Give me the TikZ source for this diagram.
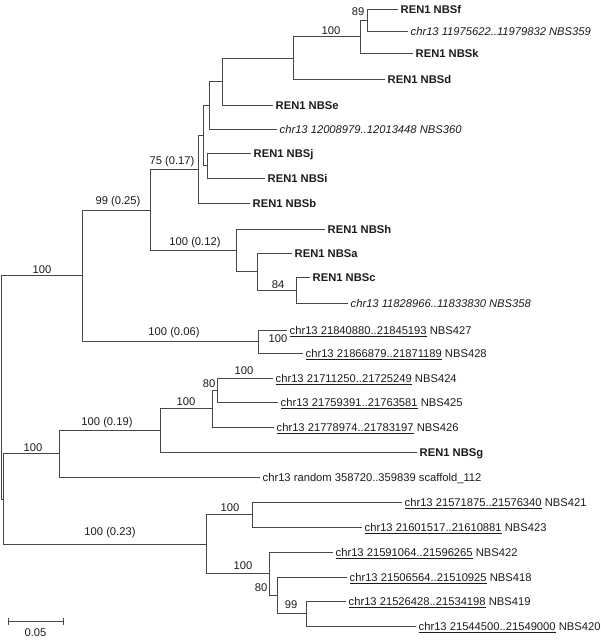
\documentclass[tikz,border=0pt]{standalone}
\usepackage{fontspec}
\setmainfont{Liberation Sans}
\definecolor{ramaG}{HTML}{474747}
\definecolor{textoN}{HTML}{1C1C1C}

\begin{document}
\begin{tikzpicture}[x=1pt,y=-1pt,
                    rama/.style={ramaG,line width=0.9pt},
                    hoja/.style={anchor=base west,inner sep=0pt,xshift=2.5pt,yshift=-4.2pt,
                                 text=textoN,font=\fontsize{11.2}{13}\selectfont},
                    boot/.style={inner sep=0pt,text=textoN,font=\fontsize{11.2}{13}\selectfont}]
  \useasboundingbox (0,0) rectangle (600,640);
  \coordinate (raiz) at (1,387.5);   \coordinate (c100) at (82,275.5);
  \coordinate (c99) at (150,210);    \coordinate (c75) at (198,169);
  \coordinate (cB) at (203,135.5);   \coordinate (cA) at (209,105);
  \coordinate (cE) at (222,81.5);    \coordinate (cD) at (293,58);
  \coordinate (cK) at (360,36.5);    \coordinate (c89) at (367,20);
  \coordinate (cJ) at (207,165.5);   \coordinate (cH) at (236,250.5);
  \coordinate (cHa) at (257,271.5);  \coordinate (c84) at (296,290);
  \coordinate (c06) at (258,341.5);  \coordinate (cBaja) at (3,499);
  \coordinate (cT2) at (59,453.75);  \coordinate (c19) at (160,430.5);
  \coordinate (c212) at (212,408.5); \coordinate (c80) at (217,390);
  \coordinate (c23) at (206,544);    \coordinate (c252) at (252,514.5);
  \coordinate (c269) at (269,573.5); \coordinate (c80b) at (277,595);
  \coordinate (c99b) at (306,613.5);
  \coordinate (tf) at (398,9);       \coordinate (t359) at (408,31);
  \coordinate (tk) at (413,53);      \coordinate (td) at (385,79);
  \coordinate (te) at (273,105);     \coordinate (t360) at (277,129);
  \coordinate (tj) at (251,153);     \coordinate (ti) at (265,178);
  \coordinate (tb) at (250,203);     \coordinate (th) at (325,229);
  \coordinate (ta) at (292,253);     \coordinate (tc) at (310,277);
  \coordinate (t358) at (348,303);   \coordinate (t427) at (287,330);
  \coordinate (t428) at (303,353);   \coordinate (t424) at (273,378);
  \coordinate (t425) at (278,402);   \coordinate (t426) at (274,427);
  \coordinate (tg) at (417,452);     \coordinate (trand) at (260,477);
  \coordinate (t421) at (402,502);   \coordinate (t423) at (362,527);
  \coordinate (t422) at (333,552);   \coordinate (t418) at (347,577);
  \coordinate (t419) at (346,601);   \coordinate (t420) at (416,626);
  \draw[rama] (raiz) |- (c100);  \draw[rama] (raiz) |- (cBaja);
  \draw[rama] (c100) |- (c99);   \draw[rama] (c100) |- (c06);
  \draw[rama] (c99) |- (c75);    \draw[rama] (c99) |- (cH);
  \draw[rama] (c75) |- (cB);     \draw[rama] (c75) |- (tb);
  \draw[rama] (cB) |- (cA);      \draw[rama] (cB) |- (cJ);
  \draw[rama] (cA) |- (cE);      \draw[rama] (cA) |- (t360);
  \draw[rama] (cE) |- (cD);      \draw[rama] (cE) |- (te);
  \draw[rama] (cD) |- (cK);      \draw[rama] (cD) |- (td);
  \draw[rama] (cK) |- (c89);     \draw[rama] (cK) |- (tk);
  \draw[rama] (c89) |- (tf);     \draw[rama] (c89) |- (t359);
  \draw[rama] (cJ) |- (tj);      \draw[rama] (cJ) |- (ti);
  \draw[rama] (cH) |- (th);      \draw[rama] (cH) |- (cHa);
  \draw[rama] (cHa) |- (ta);     \draw[rama] (cHa) |- (c84);
  \draw[rama] (c84) |- (tc);     \draw[rama] (c84) |- (t358);
  \draw[rama] (c06) |- (t427);   \draw[rama] (c06) |- (t428);
  \draw[rama] (cBaja) |- (cT2);  \draw[rama] (cBaja) |- (c23);
  \draw[rama] (cT2) |- (c19);    \draw[rama] (cT2) |- (trand);
  \draw[rama] (c19) |- (c212);   \draw[rama] (c19) |- (tg);
  \draw[rama] (c212) |- (c80);   \draw[rama] (c212) |- (t426);
  \draw[rama] (c80) |- (t424);   \draw[rama] (c80) |- (t425);
  \draw[rama] (c23) |- (c252);   \draw[rama] (c23) |- (c269);
  \draw[rama] (c252) |- (t421);  \draw[rama] (c252) |- (t423);
  \draw[rama] (c269) |- (t422);  \draw[rama] (c269) |- (c80b);
  \draw[rama] (c80b) |- (t418);  \draw[rama] (c80b) |- (c99b);
  \draw[rama] (c99b) |- (t419);  \draw[rama] (c99b) |- (t420);
  \node[hoja] (lf) at (tf) {\bfseries REN1 NBSf};
  \node[hoja] (l359) at (t359) {\itshape chr13 11975622..11979832 NBS359};
  \node[hoja] (lk) at (tk) {\bfseries REN1 NBSk};
  \node[hoja] (ld) at (td) {\bfseries REN1 NBSd};
  \node[hoja] (le) at (te) {\bfseries REN1 NBSe};
  \node[hoja] (l360) at (t360) {\itshape chr13 12008979..12013448 NBS360};
  \node[hoja] (lj) at (tj) {\bfseries REN1 NBSj};
  \node[hoja] (li) at (ti) {\bfseries REN1 NBSi};
  \node[hoja] (lb) at (tb) {\bfseries REN1 NBSb};
  \node[hoja] (lh) at (th) {\bfseries REN1 NBSh};
  \node[hoja] (la) at (ta) {\bfseries REN1 NBSa};
  \node[hoja] (lc) at (tc) {\bfseries REN1 NBSc};
  \node[hoja] (l358) at (t358) {\itshape chr13 11828966..11833830 NBS358};
  \node[hoja] (l427) at (t427) {\underline{chr13 21840880..21845193} NBS427};
  \node[hoja] (l428) at (t428) {\underline{chr13 21866879..21871189} NBS428};
  \node[hoja] (l424) at (t424) {\underline{chr13 21711250..21725249} NBS424};
  \node[hoja] (l425) at (t425) {\underline{chr13 21759391..21763581} NBS425};
  \node[hoja] (l426) at (t426) {\underline{chr13 21778974..21783197} NBS426};
  \node[hoja] (lg) at (tg) {\bfseries REN1 NBSg};
  \node[hoja] (lrand) at (trand) {chr13 random 358720..359839 scaffold\_112};
  \node[hoja] (l421) at (t421) {\underline{chr13 21571875..21576340} NBS421};
  \node[hoja] (l423) at (t423) {\underline{chr13 21601517..21610881} NBS423};
  \node[hoja] (l422) at (t422) {\underline{chr13 21591064..21596265} NBS422};
  \node[hoja] (l418) at (t418) {\underline{chr13 21506564..21510925} NBS418};
  \node[hoja] (l419) at (t419) {\underline{chr13 21526428..21534198} NBS419};
  \node[hoja] (l420) at (t420) {\underline{chr13 21544500..21549000} NBS420};
  \node[boot] (b89) at (358,12) {89};
  \node[boot] (bK) at (331,31) {100};
  \node[boot] (b75) at (172,162) {75 (0.17)};
  \node[boot] (b99) at (118,202) {99 (0.25)};
  \node[boot] (b12) at (195,243) {100 (0.12)};
  \node[boot] (b84) at (278,285) {84};
  \node[boot] (braiz) at (42,270) {100};
  \node[boot] (b06) at (174,333) {100 (0.06)};
  \node[boot] (b427) at (278,339) {100};
  \node[boot] (bT2) at (33,448) {100};
  \node[boot] (b19) at (107,423) {100 (0.19)};
  \node[boot] (b212) at (186,402) {100};
  \node[boot] (b80) at (209,384) {80};
  \node[boot] (b424) at (244,371) {100};
  \node[boot] (b252) at (230,508) {100};
  \node[boot] (b23) at (110,533) {100 (0.23)};
  \node[boot] (b269) at (243,566) {100};
  \node[boot] (b80b) at (261,588) {80};
  \node[boot] (b99b) at (291,605) {99};
  \coordinate (e0) at (8,621);
  \coordinate (e1) at (63,621);
  \draw[rama] (e0) -- (e1);
  \draw[rama] ([yshift=3.5pt]e0) -- ([yshift=-3.5pt]e0);
  \draw[rama] ([yshift=3.5pt]e1) -- ([yshift=-3.5pt]e1);
  \node[boot] (lesc) at (35.5,633) {0.05};
\end{tikzpicture}
\end{document}
